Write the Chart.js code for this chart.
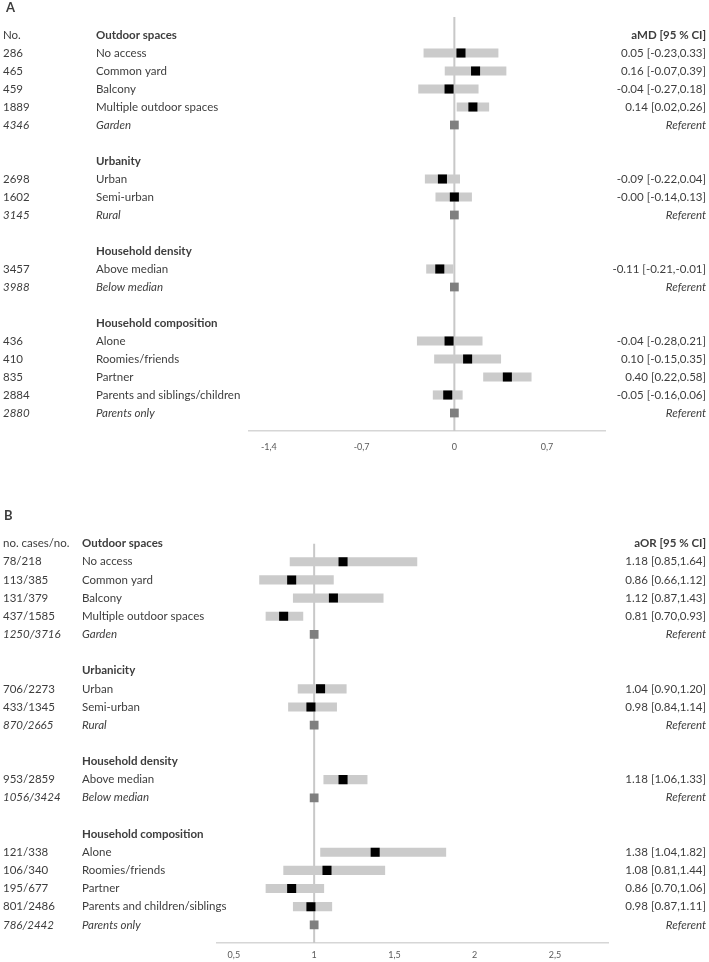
<!DOCTYPE html>
<html>
<head>
<meta charset="utf-8">
<script src="https://cdn.jsdelivr.net/npm/chart.js@4.4.1/dist/chart.umd.min.js"></script>
<style>
  html, body { margin: 0; padding: 0; background: #fff; }
  #wrap { position: relative; width: 709px; height: 962px; }
  canvas { position: absolute; left: 0; }
  #chart-a { top: 0; }
  #chart-b { top: 480px; }
</style>
</head>
<body>
<div id="wrap">
  <canvas id="chart-a" width="709" height="480"></canvas>
  <canvas id="chart-b" width="709" height="482"></canvas>
</div>
<script>
// ── PANEL A: adjusted mean difference ─────
const labelsA = ['Outdoor spaces', 'No access', 'Common yard', 'Balcony', 'Multiple outdoor spaces', 'Garden', '',
  'Urbanity', 'Urban', 'Semi-urban', 'Rural', '',
  'Household density', 'Above median', 'Below median', '',
  'Household composition', 'Alone', 'Roomies/friends', 'Partner', 'Parents and siblings/children', 'Parents only'];
const countsA = ['No.', '286', '465', '459', '1889', '4346', '',
  '', '2698', '1602', '3145', '',
  '', '3457', '3988', '',
  '', '436', '410', '835', '2884', '2880'];
const estA  = [null, 0.05, 0.16, -0.04, 0.14, null, null, null, -0.09, -0.00, null, null, null, -0.11, null, null, null, -0.04, 0.10, 0.40, -0.05, null];
const lowA  = [null, -0.23, -0.07, -0.27, 0.02, null, null, null, -0.22, -0.14, null, null, null, -0.21, null, null, null, -0.28, -0.15, 0.22, -0.16, null];
const highA = [null, 0.33, 0.39, 0.18, 0.26, null, null, null, 0.04, 0.13, null, null, null, -0.01, null, null, null, 0.21, 0.35, 0.58, 0.06, null];
const ciTextA = ['aMD [95 % CI]', '0.05 [-0.23,0.33]', '0.16 [-0.07,0.39]', '-0.04 [-0.27,0.18]', '0.14 [0.02,0.26]', 'Referent', '',
  '', '-0.09 [-0.22,0.04]', '-0.00 [-0.14,0.13]', 'Referent', '',
  '', '-0.11 [-0.21,-0.01]', 'Referent', '',
  '', '-0.04 [-0.28,0.21]', '0.10 [-0.15,0.35]', '0.40 [0.22,0.58]', '-0.05 [-0.16,0.06]', 'Referent'];
const headerRowsA = [0, 7, 12, 16];
const refRowsA = [5, 10, 14, 21];
const ticksA = [-1.4, -0.7, 0, 0.7];

// ── PANEL B: adjusted odds ratio ──────────
const labelsB = ['Outdoor spaces', 'No access', 'Common yard', 'Balcony', 'Multiple outdoor spaces', 'Garden', '',
  'Urbanicity', 'Urban', 'Semi-urban', 'Rural', '',
  'Household density', 'Above median', 'Below median', '',
  'Household composition', 'Alone', 'Roomies/friends', 'Partner', 'Parents and children/siblings', 'Parents only'];
const countsB = ['no. cases/no.', '78/218', '113/385', '131/379', '437/1585', '1250/3716', '',
  '', '706/2273', '433/1345', '870/2665', '',
  '', '953/2859', '1056/3424', '',
  '', '121/338', '106/340', '195/677', '801/2486', '786/2442'];
const estB  = [null, 1.18, 0.86, 1.12, 0.81, null, null, null, 1.04, 0.98, null, null, null, 1.18, null, null, null, 1.38, 1.08, 0.86, 0.98, null];
const lowB  = [null, 0.85, 0.66, 0.87, 0.70, null, null, null, 0.90, 0.84, null, null, null, 1.06, null, null, null, 1.04, 0.81, 0.70, 0.87, null];
const highB = [null, 1.64, 1.12, 1.43, 0.93, null, null, null, 1.20, 1.14, null, null, null, 1.33, null, null, null, 1.82, 1.44, 1.06, 1.11, null];
const ciTextB = ['aOR [95 % CI]', '1.18 [0.85,1.64]', '0.86 [0.66,1.12]', '1.12 [0.87,1.43]', '0.81 [0.70,0.93]', 'Referent', '',
  '', '1.04 [0.90,1.20]', '0.98 [0.84,1.14]', 'Referent', '',
  '', '1.18 [1.06,1.33]', 'Referent', '',
  '', '1.38 [1.04,1.82]', '1.08 [0.81,1.44]', '0.86 [0.70,1.06]', '0.98 [0.87,1.11]', 'Referent'];
const headerRowsB = [0, 7, 12, 16];
const refRowsB = [5, 10, 14, 21];
const ticksB = [0.5, 1, 1.5, 2, 2.5];

const FONT = 'Lato, "Open Sans", sans-serif';
const TEXT = '#3d3d3d';

// ── TABLE TEXT (drawn on row positions) ───
const tablePlugin = {
  id: 'forestTable',
  afterDraw(chart, args, o) {
    const ctx = chart.ctx;
    const ys = chart.scales.y;
    ctx.save();
    ctx.fillStyle = TEXT;
    ctx.textBaseline = 'middle';

    ctx.font = `bold 13px ${FONT}`;
    ctx.textAlign = 'left';
    ctx.fillText(o.title, o.titleX, o.titleY);

    o.labels.forEach((lab, i) => {
      const y = ys.getPixelForValue(i);
      const isHead = o.headers.includes(i);
      const isRef = o.refs.includes(i);
      const style = isRef ? 'italic ' : '';

      ctx.textAlign = 'left';
      ctx.font = `${style}${o.fontSize}px ${FONT}`;
      if (o.counts[i]) ctx.fillText(o.counts[i], 3, y);

      ctx.font = `${isHead ? 'bold ' : style}${o.fontSize}px ${FONT}`;
      if (lab) ctx.fillText(lab, o.labelX, y);

      ctx.textAlign = 'right';
      ctx.font = `${i === 0 ? 'bold ' : style}${o.fontSize}px ${FONT}`;
      if (o.ci[i]) ctx.fillText(o.ci[i], 706, y);
    });
    ctx.restore();
  }
};

function rowsWithValue(est) {
  const out = [];
  est.forEach((v, i) => { if (v !== null) out.push(i); });
  return out;
}

function makeForest(id, cfg) {
  const rows = rowsWithValue(cfg.est);
  const bars = rows.map(i => ({ y: i, x: [cfg.low[i], cfg.high[i]] }));
  const points = rows.map(i => ({ y: i, x: cfg.est[i] }));
  const refs = cfg.refs.map(i => ({ y: i, x: cfg.nullValue }));

  return new Chart(document.getElementById(id), {
    type: 'scatter',
    data: {
      datasets: [
        {
          type: 'scatter',
          data: [{ x: cfg.nullValue, y: cfg.yMin }, { x: cfg.nullValue, y: 22 }],
          showLine: true,
          borderColor: '#c8c8c8',
          borderWidth: 2,
          pointRadius: 0,
          order: 3
        },
        {
          type: 'bar',
          indexAxis: 'y',
          data: bars,
          backgroundColor: '#cbcbcb',
          barThickness: 8.5,
          borderSkipped: false,
          order: 2
        },
        {
          type: 'scatter',
          data: points,
          pointStyle: 'rect',
          pointRadius: 6.4,
          pointBackgroundColor: '#000',
          pointBorderWidth: 0,
          order: 1
        },
        {
          type: 'scatter',
          data: refs,
          pointStyle: 'rect',
          pointRadius: 6.2,
          pointBackgroundColor: '#7f7f7f',
          pointBorderWidth: 0,
          order: 1
        }
      ]
    },
    options: {
      responsive: false,
      animation: false,
      layout: { padding: cfg.padding, autoPadding: false },
      plugins: {
        legend: { display: false },
        tooltip: { enabled: false },
        forestTable: cfg.table
      },
      scales: {
        x: {
          type: 'linear',
          position: 'bottom',
          offset: false,
          min: cfg.xMin,
          max: cfg.xMax,
          afterBuildTicks: (s) => { s.ticks = cfg.ticks.map(v => ({ value: v })); },
          afterFit: (s) => { s.height = cfg.axisHeight; s.paddingLeft = 0; s.paddingRight = 0; },
          ticks: {
            padding: cfg.tickPad,
            color: '#595959',
            font: { family: FONT, size: 9 },
            maxRotation: 0,
            autoSkip: false,
            callback: (v) => String(v).replace('.', ',')
          },
          grid: { display: false, drawTicks: false },
          border: { display: true, color: '#d6d6d6', width: 1.5 }
        },
        y: {
          type: 'linear',
          display: false,
          offset: false,
          reverse: true,
          min: cfg.yMin,
          max: 22
        }
      }
    },
    plugins: [tablePlugin]
  });
}

makeForest('chart-a', {
  est: estA, low: lowA, high: highA, refs: refRowsA,
  nullValue: 0, xMin: -1.55, xMax: 1.137, ticks: ticksA, yMin: -1,
  tickPad: 11, axisHeight: 25,
  padding: { left: 249, right: 104, top: 17, bottom: 24 },
  table: { labels: labelsA, counts: countsA, ci: ciTextA, headers: headerRowsA, refs: refRowsA,
           labelX: 96, fontSize: 11.5, title: 'A', titleX: 6, titleY: 8 }
});

makeForest('chart-b', {
  est: estB, low: lowB, high: highB, refs: refRowsB,
  nullValue: 1, xMin: 0.395, xMax: 2.83, ticks: ticksB, yMin: 0,
  tickPad: 7, axisHeight: 19,
  padding: { left: 217, right: 101, top: 63.6, bottom: 0 },
  table: { labels: labelsB, counts: countsB, ci: ciTextB, headers: headerRowsB, refs: refRowsB,
           labelX: 82, fontSize: 11.5, title: 'B', titleX: 4, titleY: 36 }
});
</script>
</body>
</html>
